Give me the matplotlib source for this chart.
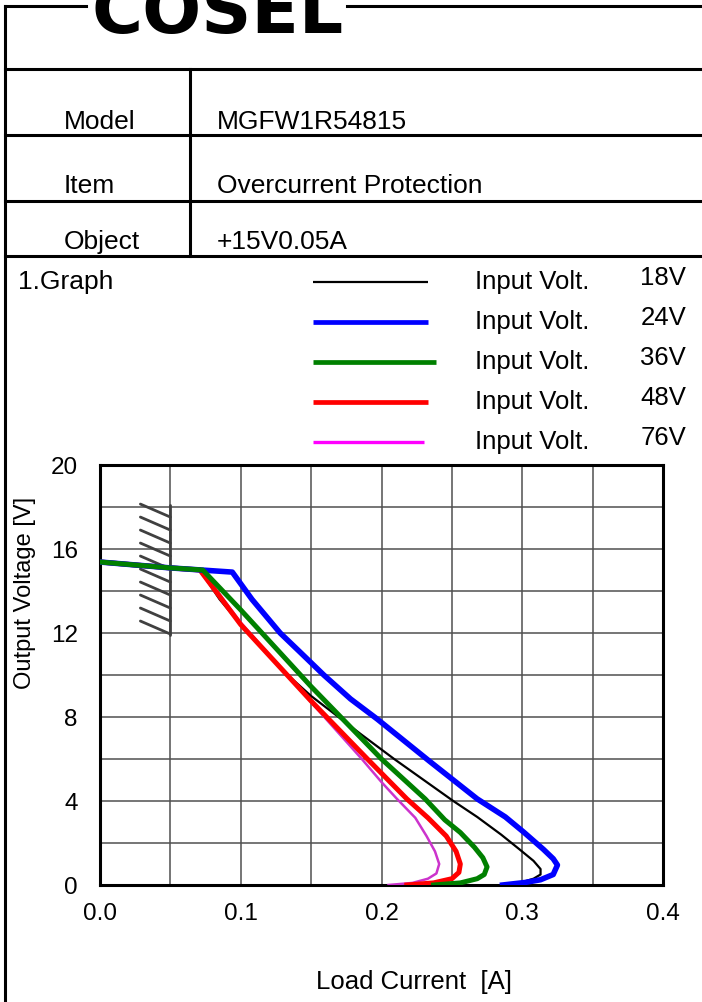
import numpy as np
import matplotlib
matplotlib.use("Agg")
import matplotlib.pyplot as plt
from matplotlib.lines import Line2D
from matplotlib.ticker import MultipleLocator

plt.rcParams['font.family'] = ['Liberation Sans', 'DejaVu Sans']

W, H = 702, 1003

# Overcurrent characteristic, one curve per input voltage
I_18 = [0, 0.05, 0.071, 0.085, 0.100, 0.130, 0.150, 0.185, 0.209, 0.230, 0.251, 0.268,
        0.285, 0.298, 0.308, 0.313, 0.313, 0.308, 0.298, 0.286]
V_18 = [15.38, 15.1, 15.0, 13.6, 12.4, 10.2, 9.0, 7.2, 6.0, 5.0, 4.0, 3.24,
        2.4, 1.7, 1.15, 0.76, 0.5, 0.3, 0.1, 0.0]

I_24 = [0, 0.05, 0.094, 0.108, 0.128, 0.142, 0.159, 0.178, 0.197, 0.234, 0.268, 0.288, 0.301,
        0.315, 0.322, 0.325, 0.322, 0.313, 0.302, 0.286]
V_24 = [15.38, 15.1, 14.9, 13.6, 12.0, 11.1, 10.0, 8.86, 7.9, 5.9, 4.1, 3.24, 2.52,
        1.7, 1.25, 0.95, 0.5, 0.25, 0.12, 0.0]

I_36 = [0, 0.05, 0.073, 0.100, 0.150, 0.200, 0.231, 0.245, 0.256, 0.266, 0.272, 0.275, 0.273,
        0.268, 0.256, 0.237]
V_36 = [15.38, 15.1, 15.0, 13.1, 9.45, 6.0, 4.1, 3.1, 2.5, 1.8, 1.3, 0.86, 0.5,
        0.3, 0.1, 0.0]

I_48 = [0, 0.05, 0.071, 0.100, 0.150, 0.190, 0.218, 0.233, 0.246, 0.253, 0.256, 0.255, 0.250,
        0.237, 0.218]
V_48 = [15.38, 15.1, 15.0, 12.4, 8.76, 6.0, 4.1, 3.2, 2.33, 1.6, 1.0, 0.6, 0.3,
        0.1, 0.0]

I_76 = [0, 0.05, 0.072, 0.100, 0.150, 0.186, 0.200, 0.211, 0.224, 0.232, 0.238, 0.241, 0.239,
        0.233, 0.222, 0.205]
V_76 = [15.38, 15.1, 15.0, 12.5, 8.7, 6.0, 4.9, 4.1, 3.2, 2.33, 1.6, 1.0, 0.55,
        0.3, 0.1, 0.0]

volts = ["18V", "24V", "36V", "48V", "76V"]
x_ticks = [0.0, 0.1, 0.2, 0.3, 0.4]
y_ticks = [0, 4, 8, 12, 16, 20]

fig = plt.figure(figsize=(W / 100, H / 100), dpi=100)


def fx(px):
    return px / W


def fy(py):
    return 1 - py / H


def hline(y, x0, x1, lw=2.2, color='black'):
    fig.add_artist(Line2D([fx(x0), fx(x1)], [fy(y), fy(y)], lw=lw, color=color,
                          transform=fig.transFigure))


def vline(x, y0, y1, lw=2.2, color='black'):
    fig.add_artist(Line2D([fx(x), fx(x)], [fy(y0), fy(y1)], lw=lw, color=color,
                          transform=fig.transFigure))


# sheet frame and header table
vline(5, 7, H)
hline(7, 5, 86)
hline(7, 347, W)
for y in (70, 136, 202, 257):
    hline(y, 5, W)
vline(190, 70, 257)

# company logo, sitting on the top edge of the sheet
fig.text(fx(218), fy(33), "COSEL", fontsize=50, fontweight='heavy', family='DejaVu Sans',
         ha='center', va='baseline')

fs = 19
rows = [("Model", "MGFW1R54815", 122), ("Item", "Overcurrent Protection", 186),
        ("Object", "+15V0.05A", 242)]
for lab, val, y in rows:
    fig.text(fx(64), fy(y), lab, fontsize=fs, ha='left', va='center')
    fig.text(fx(217), fy(y), val, fontsize=fs, ha='left', va='center')

fig.text(fx(18), fy(282), "1.Graph", fontsize=fs, ha='left', va='center')

# legend
leg_style = [('black', 1.6, 428), ('#0000ff', 3.4, 428), ('#008000', 3.4, 436),
             ('#ff0000', 3.4, 428), ('#ff00ff', 2.4, 424)]
leg_y = [283, 323, 363, 403, 443]
for (c, lw, xe), y, v in zip(leg_style, leg_y, volts):
    fig.add_artist(Line2D([fx(313), fx(xe)], [fy(y), fy(y)], lw=lw, color=c,
                          transform=fig.transFigure, solid_capstyle='butt'))
    fig.text(fx(475), fy(y - 1), "Input Volt.", fontsize=18.5, ha='left', va='center')
    fig.text(fx(686), fy(y - 5), v, fontsize=18.5, ha='right', va='center')

# plot area
ax = fig.add_axes([fx(100), fy(886), (663 - 100) / W, (886 - 466) / H])
ax.set_xlim(0, 0.4)
ax.set_ylim(0, 20)
ax.xaxis.set_minor_locator(MultipleLocator(0.05))
ax.yaxis.set_minor_locator(MultipleLocator(2))
ax.set_xticks(x_ticks)
ax.set_xticklabels([f"{t:.1f}" for t in x_ticks])
ax.set_yticks(y_ticks)
ax.set_yticklabels([str(t) for t in y_ticks])
ax.grid(True, which='both', color='#505050', lw=1.1)
ax.tick_params(which='both', length=0, labelsize=17.5)
ax.tick_params(axis='x', pad=12)
ax.tick_params(axis='y', pad=16)
for s in ax.spines.values():
    s.set_linewidth(2.2)

# hatched limit marker at 0.05 A
ax.plot([0.05, 0.05], [11.9, 18.1], color='#404040', lw=2, solid_capstyle='round', zorder=3)
for v in np.linspace(11.95, 17.52, 10):
    ax.plot([0.05, 0.0287], [v, v + 0.62], color='#404040', lw=2,
            solid_capstyle='round', zorder=3)

ax.plot(I_18, V_18, color='black', lw=1.6, zorder=4)
ax.plot(I_76, V_76, color='#cc33cc', lw=1.8, zorder=5)
ax.plot(I_48, V_48, color='#ff0000', lw=3.6, zorder=6)
ax.plot(I_24, V_24, color='#0000ff', lw=4.0, zorder=7)
ax.plot(I_36, V_36, color='#008000', lw=3.6, zorder=8)

fig.text(fx(414), fy(982), "Load Current  [A]", fontsize=18.5, ha='center', va='center')
fig.text(fx(25), fy(593), "Output Voltage [V]", fontsize=17, ha='center', va='center',
         rotation=90)

fig.savefig("out.png", dpi=100)
